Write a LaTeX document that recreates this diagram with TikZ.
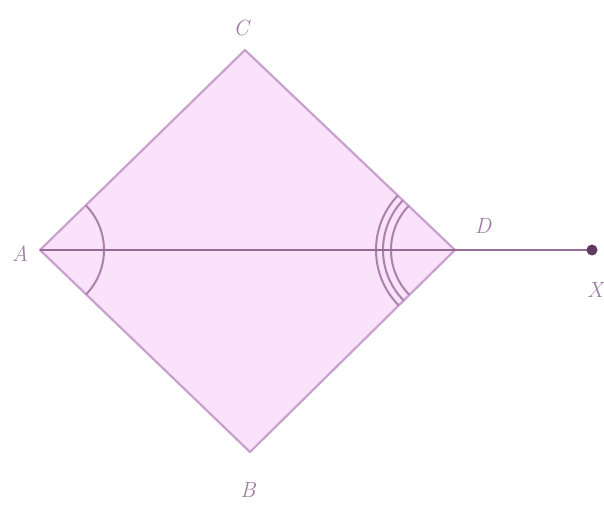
\documentclass[tikz,border=0pt]{standalone}
\begin{document}
\begin{tikzpicture}[x=1pt,y=1pt,
  edge/.style={draw=edgec,line width=2.2pt},
  anglemark/.style={draw=arcc,line width=2pt},
  lbl/.style={text=lblc,font=\fontsize{22}{24}\selectfont\itshape,inner sep=0pt}]
\definecolor{fillc}{RGB}{250,226,250}
\definecolor{edgec}{RGB}{200,162,204}
\definecolor{arcc}{RGB}{170,130,172}
\definecolor{linec}{RGB}{150,108,150}
\definecolor{dotc}{RGB}{95,60,95}
\definecolor{lblc}{RGB}{160,125,165}
\useasboundingbox (0,0) rectangle (604,504);
\coordinate (A) at (40,254);
\coordinate (C) at (245,454);
\coordinate (D) at (455,254);
\coordinate (B) at (250,52);
\coordinate (X) at (592,254);
\fill[fillc] (A) -- (C) -- (D) -- (B) -- cycle;
\draw[edge,line join=round] (A) -- (C) -- (D) -- (B) -- cycle;
\draw[anglemark] ([shift={(A)}]-44:64) arc (-44:44:64);
\draw[anglemark] ([shift={(D)}]136.4:64) arc (136.4:224.6:64);
\draw[anglemark] ([shift={(D)}]136.4:72) arc (136.4:224.6:72);
\draw[anglemark] ([shift={(D)}]136.4:79) arc (136.4:224.6:79);
\draw[draw=linec,line width=2.4pt] (A) -- (X);
\fill[dotc] (X) circle (5.5);
\node[lbl] (lA) at (20,250) {A};
\node[lbl] (lC) at (241,476) {C};
\node[lbl] (lD) at (483,278) {D};
\node[lbl] (lB) at (248,14) {B};
\node[lbl] (lX) at (595,214) {X};
\end{tikzpicture}
\end{document}
